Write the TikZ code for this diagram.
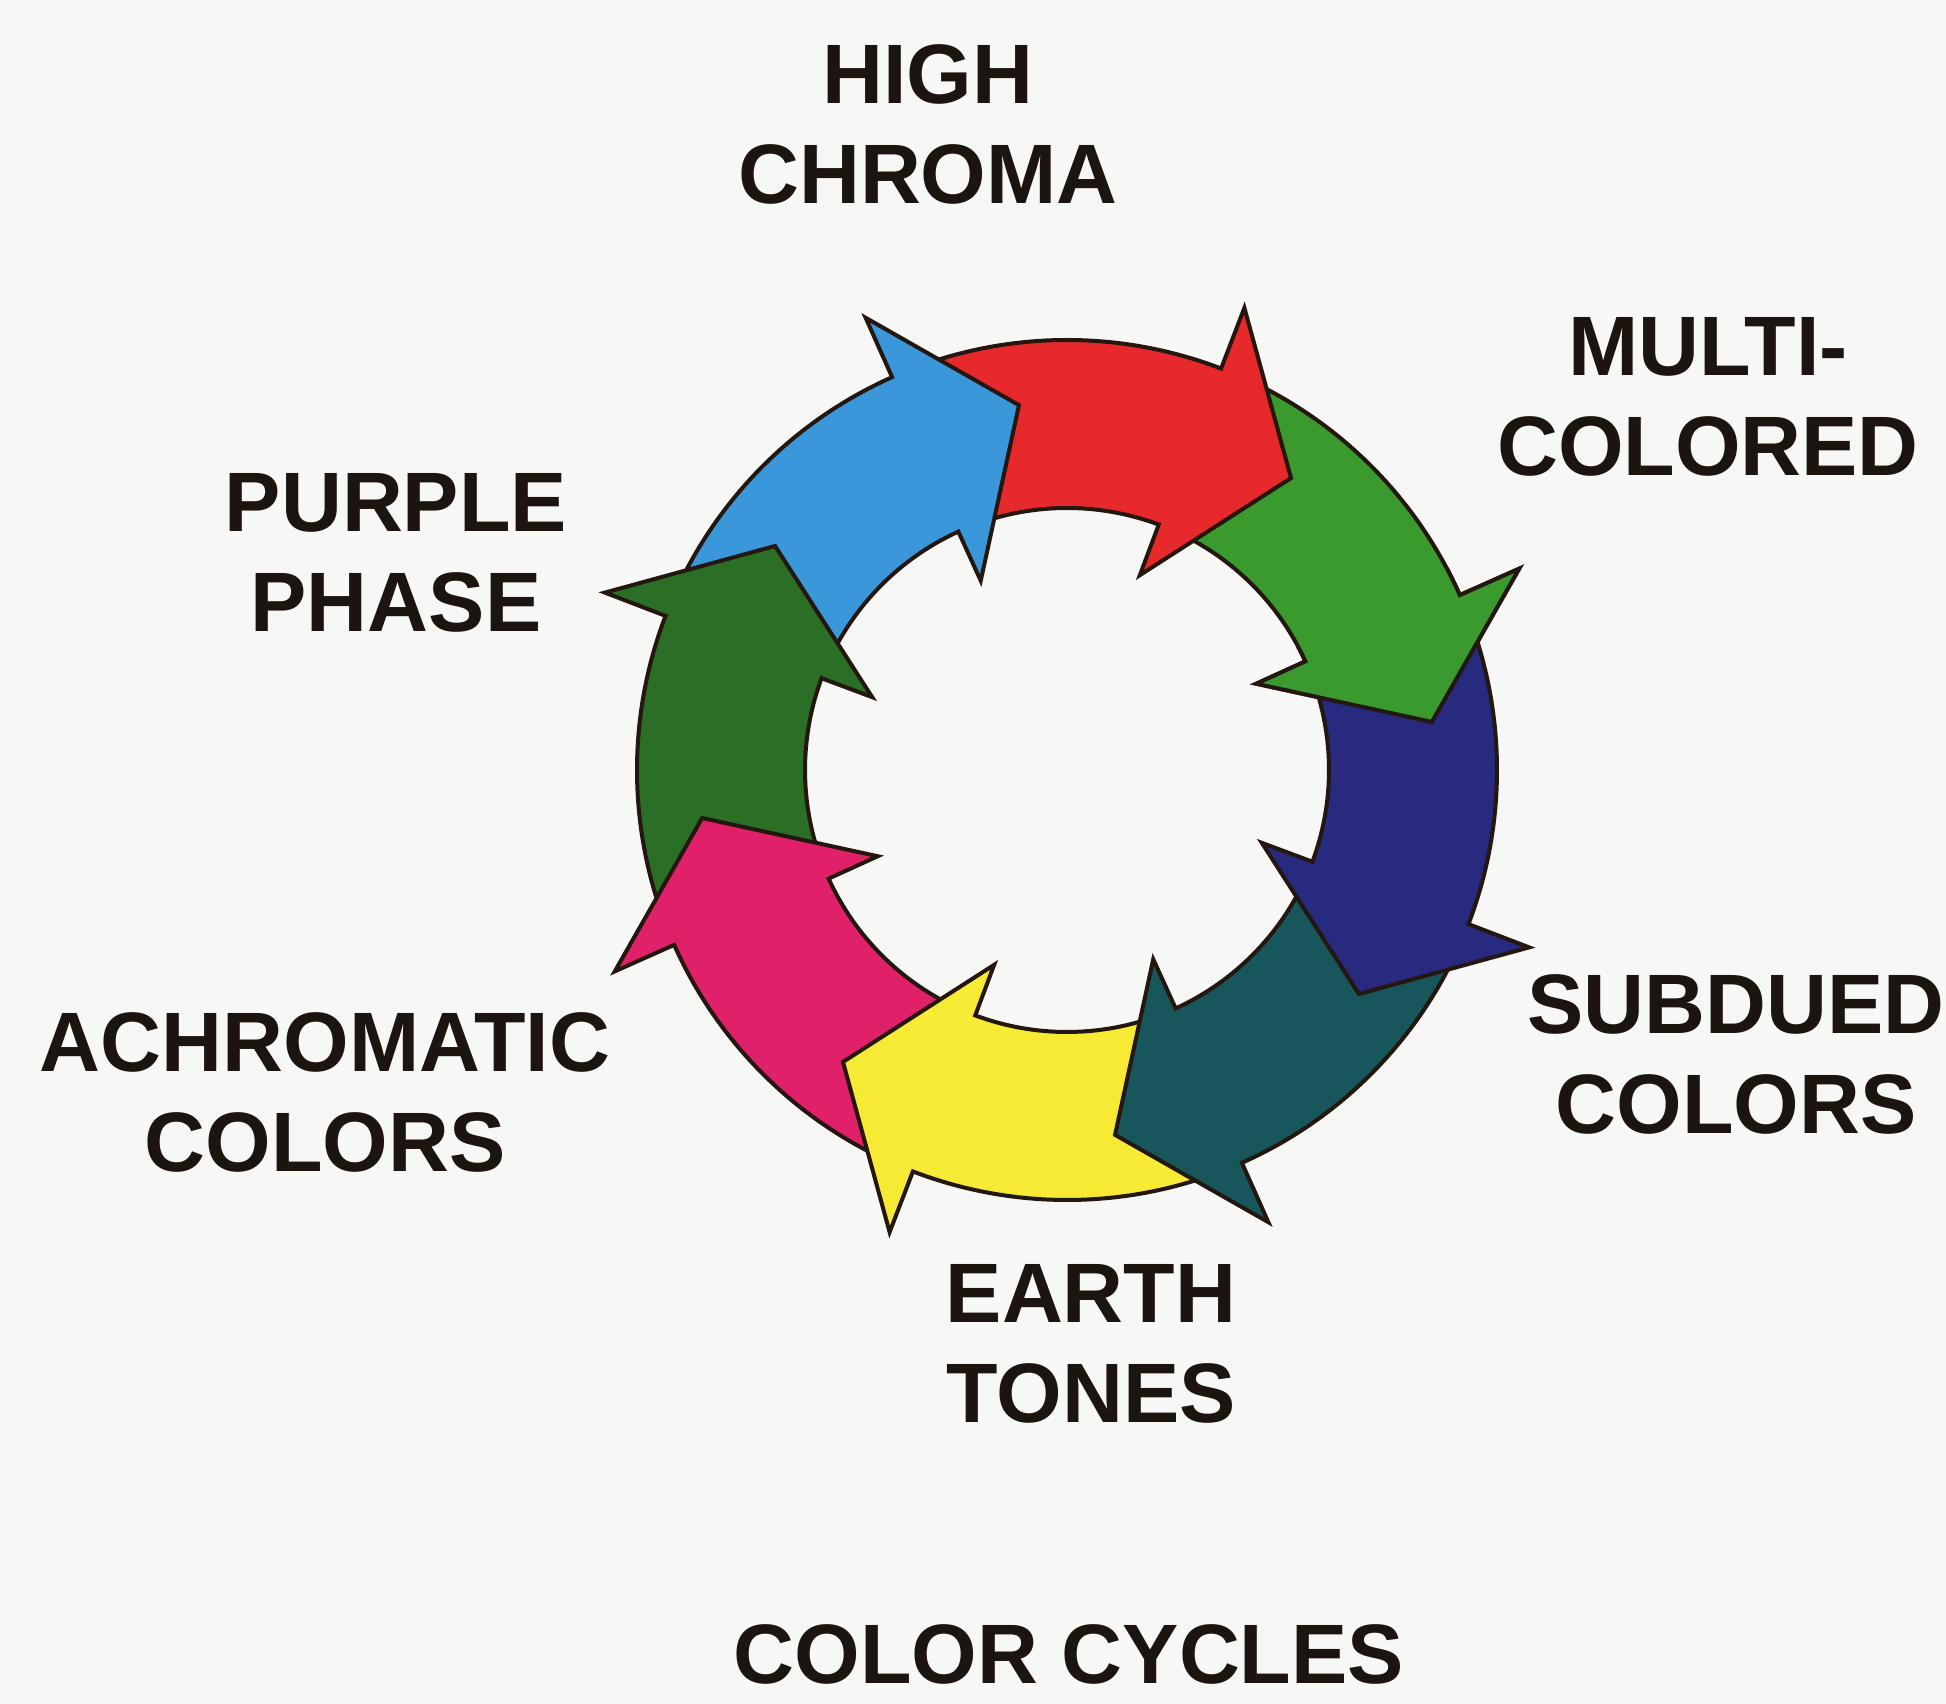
\documentclass[tikz,border=0pt]{standalone}
\usepackage{fontspec}
\setmainfont{Liberation Sans}
\definecolor{bg}{HTML}{F7F7F5}
\definecolor{edge}{HTML}{24170F}
\definecolor{txt}{HTML}{1C140E}
\definecolor{cred}{HTML}{E8292B}
\definecolor{cblue}{HTML}{3A98DA}
\definecolor{cdgreen}{HTML}{2B6E26}
\definecolor{cpink}{HTML}{E02068}
\definecolor{cyellow}{HTML}{F7EA35}
\definecolor{cteal}{HTML}{17565A}
\definecolor{cnavy}{HTML}{272A7E}
\definecolor{clgreen}{HTML}{3A9A2E}
\newcommand\ringarrow[2]{%
  \path[segshape, fill=#2]
    ({#1+42}:430) arc[start angle={#1+42}, end angle={#1}, radius=430]
    -- ({#1}:495) -- ({#1-16.5}:368) -- ({#1+0.5}:208) -- ({#1+0.5}:262)
    arc[start angle={#1+0.5}, end angle={#1+42}, radius=262] -- cycle;}
\begin{document}
\begin{tikzpicture}[x=0.1mm, y=0.1mm,
  segshape/.style={draw=edge, line width=0.4mm},
  lbl/.style={font=\bfseries\fontsize{24}{28.45}\selectfont, text=txt, align=center, inner sep=0pt}]
\fill[bg] (0,0) rectangle (1946,1704);
\useasboundingbox (0,0) rectangle (1946,1704);
\begin{scope}[shift={(1067,934)}]
  \ringarrow{24}{clgreen}
  \ringarrow{69}{cred}
  \ringarrow{114}{cblue}
  \ringarrow{159}{cdgreen}
  \ringarrow{204}{cpink}
  \ringarrow{249}{cyellow}
  \ringarrow{294}{cteal}
  \ringarrow{339}{cnavy}
  \begin{scope}
    \clip (0,0) -- (4:700) arc[start angle=4, end angle=28, radius=700] -- cycle;
    \ringarrow{24}{clgreen}
  \end{scope}
\end{scope}
\node[lbl] (high) at (928,1580) {HIGH\\CHROMA};
\node[lbl] (multi) at (1708,1307) {MULTI-\\COLORED};
\node[lbl] (purple) at (396,1151) {PURPLE\\PHASE};
\node[lbl] (subdued) at (1736,650) {SUBDUED\\COLORS};
\node[lbl] (achrom) at (325,612) {ACHROMATIC\\COLORS};
\node[lbl] (earth) at (1091,360) {EARTH\\TONES};
\node[lbl] (title) at (1069,50) {COLOR CYCLES};
\end{tikzpicture}
\end{document}
